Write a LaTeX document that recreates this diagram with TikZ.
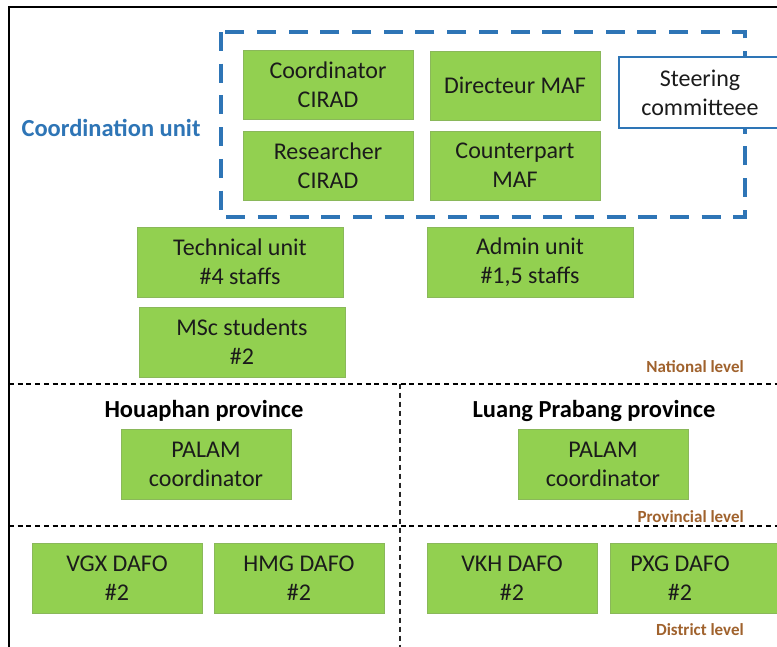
\documentclass[tikz,border=0pt]{standalone}
\usepackage{fontspec}
\setmainfont{Carlito}
\definecolor{boxgreen}{HTML}{92D050}
\definecolor{boxedge}{HTML}{8AB85A}
\definecolor{unitblue}{HTML}{2E75B6}
\definecolor{levelbrown}{HTML}{A0622D}
\definecolor{textdark}{HTML}{1B1B1B}
\tikzset{
  gbox/.style={rectangle, fill=boxgreen, draw=boxedge, line width=0.8pt,
    minimum width=170pt, minimum height=69pt, align=center, text=textdark,
    font=\fontsize{24}{29}\selectfont, inner sep=0pt},
  gfill/.style={fill=boxgreen, draw=boxedge, line width=0.8pt},
  boxtext/.style={align=center, text=textdark, font=\fontsize{24}{29}\selectfont, inner sep=0pt},
  steerbox/.style={rectangle, fill=white, draw=unitblue, line width=2.5pt,
    minimum width=162pt, minimum height=71pt, align=center, text=textdark,
    font=\fontsize{24}{29}\selectfont, inner sep=0pt},
  unitframe/.style={draw=unitblue, line width=4pt, dash pattern=on 19pt off 12.7pt},
  levelsep/.style={draw=black, line width=2pt, dash pattern=on 5pt off 3.7pt},
  colsep/.style={draw=black!85, line width=1.1pt, dash pattern=on 5pt off 4pt},
  leveltext/.style={text=levelbrown, font=\fontsize{17}{20}\selectfont\bfseries, inner sep=0pt, anchor=east},
  provtext/.style={text=black, font=\fontsize{24.5}{28}\selectfont\bfseries, inner sep=0pt},
  frame/.style={draw=black, line width=1.5pt}
}
\begin{document}
\begin{tikzpicture}[x=1pt,y=-1pt]
\useasboundingbox (0,0) rectangle (777,646);
\clip (0,0) rectangle (777,646);
\fill[white] (0,0) rectangle (777,646);

% outer frame
\coordinate (ftl) at (9,7);
\coordinate (ftr) at (780,7);
\coordinate (fbl) at (9,650);
\draw[frame] (ftr) -- (ftl) -- (fbl);

% coordination unit frame
\draw[unitframe] (221,32) rectangle (745,217);
\node[text=unitblue, font=\fontsize{24.5}{28}\selectfont\bfseries, inner sep=0pt] (cu) at (111,128) {Coordination unit};

\node[gbox] (coord) at (328,84.5) {Coordinator\\CIRAD};
\node[gbox] (dir) at (515,85.5) {Directeur MAF};
\node[gbox] (res) at (328,165.5) {Researcher\\CIRAD};
\node[gbox] (cpt) at (515,165.5) {Counterpart\\MAF};
\node[steerbox] (steer) at (700,92.5) {Steering\\committeee};

\node[gbox, minimum width=206pt, minimum height=70pt] (tech) at (240,262) {Technical unit\\\#4 staffs};
\node[gbox, minimum width=206pt, minimum height=70pt] (admin) at (530,262) {Admin unit\\\#1,5 staffs};
\node[gbox, minimum width=206pt, minimum height=70pt] (msc) at (242,342) {MSc students\\\#2};

\node[leveltext] (natl) at (744,367) {National level};

% separators
\coordinate (s1l) at (9,383.5);
\coordinate (s1r) at (780,383.5);
\coordinate (s2l) at (9,526);
\coordinate (s2r) at (780,526);
\coordinate (vt) at (400,383.5);
\coordinate (vb) at (400,650);
\draw[levelsep] (s1l) -- (s1r);
\draw[levelsep] (s2l) -- (s2r);
\draw[colsep] (vt) -- (vb);

\node[provtext] (hou) at (204,411) {Houaphan province};
\node[provtext] (lpb) at (594,411) {Luang Prabang province};

\node[gbox, minimum height=70pt] (palam1) at (206,464) {PALAM\\coordinator};
\node[gbox, minimum height=70pt] (palam2) at (603,464) {PALAM\\coordinator};

\node[leveltext] (prov) at (744,517) {Provincial level};

\node[gbox, minimum height=70pt] (vgx) at (117,578) {VGX DAFO\\\#2};
\node[gbox, minimum height=70pt] (hmg) at (299,578) {HMG DAFO\\\#2};
\node[gbox, minimum height=70pt] (vkh) at (512,578) {VKH DAFO\\\#2};
\path[gfill] (610,543) rectangle (790,613);
\node[boxtext] (pxg) at (680,578) {PXG DAFO\\\#2};

\node[leveltext] (dist) at (744,630) {District level};
\end{tikzpicture}
\end{document}
